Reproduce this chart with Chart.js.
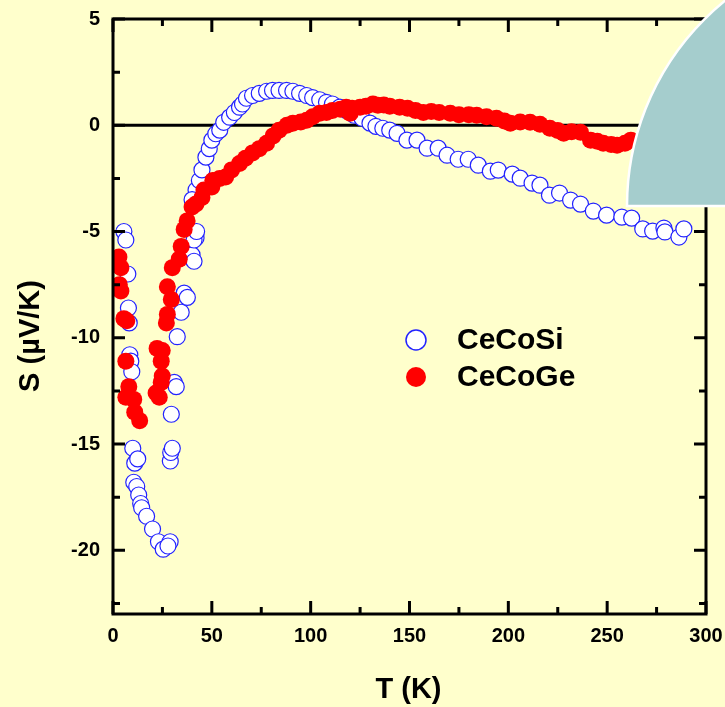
<!DOCTYPE html>
<html>
<head>
<meta charset="utf-8">
<script src="https://cdn.jsdelivr.net/npm/chart.js@4/dist/chart.umd.min.js"></script>
<style>
  html, body { margin: 0; padding: 0; background: #FFFFCC; }
  canvas { display: block; }
</style>
</head>
<body>
<canvas id="c" width="725" height="707"></canvas>
<script>
// Thermopower S(T) of CeCoSi and CeCoGe
const seriesNames = ['CeCoSi', 'CeCoGe'];
const xTitle = 'T (K)';
const yTitle = 'S (µV/K)';

// CeCoSi: temperature (K) and thermopower (µV/K)
const siT = [5.5, 6.5, 7.5, 7.8, 8.2, 8.5, 9.0, 9.5, 10.0, 11.0, 12.5, 10.5, 12.0, 13.0, 14.0, 14.5, 17.0, 20.0, 23.0, 25.4, 28.9, 27.8,
  29.0, 29.2, 30.0, 29.5, 31.0, 32.0,
  32.5, 34.5, 36.0, 37.6, 40.0, 41.0, 42.0, 41.0, 42.3, 42.0, 40.0, 43.7, 45.0, 47.0, 48.7, 50.0, 52.0, 54.0, 56.0, 59.0, 61.4, 64.0,
  65.5, 67.5, 70.6, 74.0, 77.7, 80.7, 84.0, 87.8, 91.0, 94.4, 98.0, 101.0, 104.6, 108.0, 111.0, 114.7, 118.0, 122.0, 126.0, 130.0,
  133.0, 136.5, 140.0, 143.7, 148.7, 153.8, 158.9, 164.5, 169.0, 174.6, 179.7, 184.8, 190.9, 194.9, 202.0, 206.0, 212.0, 216.0,
  220.8, 225.9, 231.5, 236.5, 243.0, 249.7, 257.4, 262.4, 268.0, 273.0, 278.7, 279.2, 286.3, 288.8];
const siS = [-5.0, -5.4, -7.0, -8.6, -9.3, -10.8, -11.1, -11.6, -15.2, -15.9, -15.7, -16.8, -17.0, -17.4, -17.8, -18.0, -18.4, -19.0, -19.6, -19.95, -19.6, -19.8,
  -15.8, -15.4, -15.2, -13.6, -12.1, -12.3,
  -9.95, -8.8, -7.9, -8.1, -6.1, -6.4, -5.3, -5.4, -5.0, -3.05, -3.5, -2.6, -2.1, -1.5, -1.1, -0.7, -0.4, -0.23, 0.14, 0.38, 0.6, 0.85,
  1.0, 1.27, 1.4, 1.5, 1.6, 1.64, 1.64, 1.64, 1.6, 1.5, 1.4, 1.3, 1.2, 1.08, 1.0, 0.85, 0.7, 0.47, 0.33, 0.1,
  -0.05, -0.14, -0.23, -0.38, -0.7, -0.7, -1.08, -1.08, -1.41, -1.6, -1.6, -1.88, -2.16, -2.11, -2.3, -2.49, -2.72, -2.82,
  -3.29, -3.19, -3.52, -3.71, -4.04, -4.23, -4.32, -4.37, -4.88, -4.98, -4.84, -5.02, -5.26, -4.88];

// CeCoGe: temperature (K) and thermopower (µV/K)
const geT = [3.0, 4.0, 3.2, 4.0, 5.5, 7.0, 6.5, 8.0, 6.5, 10.5, 11.0, 13.5, 24.4, 23.4, 24.9, 24.4, 24.9, 22.3, 21.8,
  27.5, 27.0, 29.5, 27.5, 30.0, 33.5, 34.5, 36.0, 37.5, 40.0, 42.0, 45.0, 46.0, 50.0, 50.5, 54.0, 57.0, 60.0, 64.0, 67.0, 70.6,
  74.0, 77.7, 81.0, 84.0, 88.0, 91.0, 95.0, 98.0, 101.0, 104.6, 108.0, 111.0, 115.0, 118.0, 120.0, 121.0, 125.0, 128.0, 131.5, 134.0,
  137.0, 140.0, 145.0, 149.0, 153.0, 157.0, 161.0, 165.0, 170.6, 175.0, 180.0, 184.0, 189.0, 194.0, 198.0, 201.0, 206.0, 211.0,
  216.0, 221.0, 225.0, 228.0, 232.0, 236.5, 241.6, 245.0, 248.0, 252.0, 255.0, 259.0, 262.0];
const geS = [-6.2, -6.7, -7.5, -7.8, -9.1, -9.2, -11.1, -12.3, -12.8, -12.9, -13.5, -13.9, -12.1, -12.8, -10.6, -11.1, -11.8, -10.5, -12.6,
  -8.9, -9.3, -8.2, -7.6, -6.7, -6.3, -5.7, -4.9, -4.5, -3.85, -3.7, -3.4, -3.05, -2.9, -2.6, -2.5, -2.44, -2.1, -1.8, -1.55, -1.3,
  -1.1, -0.85, -0.5, -0.23, 0.0, 0.1, 0.15, 0.23, 0.4, 0.56, 0.6, 0.7, 0.75, 0.85, 0.56, 0.8, 0.85, 0.9, 1.0, 0.94,
  0.95, 0.9, 0.85, 0.8, 0.7, 0.6, 0.65, 0.6, 0.56, 0.5, 0.5, 0.47, 0.4, 0.33, 0.2, 0.1, 0.15, 0.14,
  0.05, -0.14, -0.25, -0.38, -0.3, -0.33, -0.7, -0.75, -0.85, -0.9, -0.94, -0.85, -0.7];

// Axis ticks
const xMajorTicks = [0, 50, 100, 150, 200, 250, 300];
const xMinorTicks = [25, 75, 125, 175, 225, 275];
const yMajorTicks = [-20, -15, -10, -5, 0, 5];
const yMinorTicks = [-22.5, -17.5, -12.5, -7.5, -2.5, 2.5];

const toPoints = (xs, ys) => xs.map((x, i) => ({ x: x, y: ys[i] }));

const BG = '#FFFFCC';
const FONT = "'Liberation Sans', Arial, sans-serif";

// Axis frame with inward ticks on all four sides, and the S = 0 line
const framePlugin = {
  id: 'frame',
  beforeDatasetsDraw(chart) {
    const { ctx, chartArea: a, scales: { y } } = chart;
    ctx.save();
    ctx.strokeStyle = '#000';
    ctx.lineWidth = 3;
    const y0 = y.getPixelForValue(0);
    ctx.beginPath();
    ctx.moveTo(a.left, y0);
    ctx.lineTo(a.right, y0);
    ctx.stroke();
    ctx.restore();
  },
  afterDatasetsDraw(chart) {
    const { ctx, chartArea: a, scales: { x, y } } = chart;
    ctx.save();
    ctx.strokeStyle = '#000';
    ctx.lineCap = 'butt';
    ctx.lineWidth = 3;
    ctx.strokeRect(a.left, a.top, a.right - a.left, a.bottom - a.top);
    const tick = (vals, len, w) => {
      ctx.lineWidth = w;
      ctx.beginPath();
      vals.forEach(v => {
        const px = x.getPixelForValue(v);
        ctx.moveTo(px, a.bottom); ctx.lineTo(px, a.bottom - len);
        ctx.moveTo(px, a.top); ctx.lineTo(px, a.top + len);
      });
      ctx.stroke();
    };
    const ytick = (vals, len, w) => {
      ctx.lineWidth = w;
      ctx.beginPath();
      vals.forEach(v => {
        const py = y.getPixelForValue(v);
        ctx.moveTo(a.left, py); ctx.lineTo(a.left + len, py);
        ctx.moveTo(a.right, py); ctx.lineTo(a.right - len, py);
      });
      ctx.stroke();
    };
    tick(xMajorTicks, 13, 3);
    tick(xMinorTicks, 7, 3);
    ytick(yMajorTicks, 12, 3);
    ytick(yMinorTicks, 7, 3);

    // axis titles
    ctx.fillStyle = '#000';
    ctx.font = 'bold 29px ' + FONT;
    ctx.textAlign = 'center';
    ctx.textBaseline = 'middle';
    ctx.fillText(xTitle, (a.left + a.right) / 2 - 1, 690);
    ctx.save();
    ctx.translate(31, 336);
    ctx.rotate(-Math.PI / 2);
    ctx.fillText(yTitle, 0, 0);
    ctx.restore();
    ctx.restore();
  }
};

// Legend inside the plot area
const legendPlugin = {
  id: 'insideLegend',
  afterDatasetsDraw(chart) {
    const { ctx } = chart;
    const items = chart.data.datasets;
    ctx.save();
    items.forEach((ds, row) => {
      const cy = 340 + row * 37;
      ctx.beginPath();
      ctx.arc(416, cy, 10, 0, Math.PI * 2);
      ctx.fillStyle = ds.backgroundColor;
      ctx.fill();
      if (ds.borderWidth) {
        ctx.lineWidth = 1.5;
        ctx.strokeStyle = ds.borderColor;
        ctx.stroke();
      }
      ctx.fillStyle = '#000';
      ctx.font = 'bold 30px ' + FONT;
      ctx.textBaseline = 'middle';
      ctx.textAlign = 'left';
      ctx.fillText(ds.label, 457, cy + 1);
    });
    ctx.restore();
  }
};

// Corner ornament in the top-right corner
const cornerPlugin = {
  id: 'corner',
  afterDraw(chart) {
    const { ctx } = chart;
    const cx = 891, cy = 206, r = 264;
    ctx.save();
    ctx.beginPath();
    ctx.moveTo(cx, cy);
    ctx.lineTo(cx - r, cy);
    ctx.arc(cx, cy, r, Math.PI, 1.5 * Math.PI);
    ctx.closePath();
    ctx.fillStyle = '#A5CDCD';
    ctx.fill();
    ctx.strokeStyle = '#FFFFFF';
    ctx.lineWidth = 2.5;
    ctx.stroke();
    ctx.restore();
  }
};

const bgPlugin = {
  id: 'bg',
  beforeDraw(chart) {
    const { ctx, width, height } = chart;
    ctx.save();
    ctx.fillStyle = BG;
    ctx.fillRect(0, 0, width, height);
    ctx.restore();
  }
};

new Chart(document.getElementById('c'), {
  type: 'scatter',
  data: {
    datasets: [
      {
        label: seriesNames[0],
        data: toPoints(siT, siS),
        pointRadius: 8,
        pointHoverRadius: 8,
        backgroundColor: '#FFFFFF',
        borderColor: '#2222FF',
        borderWidth: 1.2,
        order: 1
      },
      {
        label: seriesNames[1],
        data: toPoints(geT, geS),
        pointRadius: 8.5,
        pointHoverRadius: 8.5,
        backgroundColor: '#FF0000',
        borderColor: '#FF0000',
        borderWidth: 0,
        order: 0
      }
    ]
  },
  options: {
    responsive: false,
    animation: false,
    devicePixelRatio: 1,
    layout: { padding: { left: 0, top: 19, right: 19, bottom: 0 } },
    plugins: { legend: { display: false }, tooltip: { enabled: false } },
    scales: {
      x: {
        type: 'linear',
        min: 0,
        max: 300,
        afterFit(scale) { scale.height = 93; scale.paddingLeft = 0; scale.paddingRight = 0; },
        afterBuildTicks(scale) { scale.ticks = xMajorTicks.map(v => ({ value: v })); },
        grid: { display: false, drawTicks: false },
        border: { display: false },
        ticks: { color: '#000', padding: 10, font: { family: FONT, size: 20, weight: 'bold' }, maxRotation: 0 }
      },
      y: {
        type: 'linear',
        min: -23,
        max: 5,
        afterFit(scale) { scale.width = 113; scale.paddingTop = 0; scale.paddingBottom = 0; },
        afterBuildTicks(scale) { scale.ticks = yMajorTicks.map(v => ({ value: v })); },
        grid: { display: false, drawTicks: false },
        border: { display: false },
        ticks: { color: '#000', padding: 13, font: { family: FONT, size: 20, weight: 'bold' } }
      }
    }
  },
  plugins: [bgPlugin, framePlugin, legendPlugin, cornerPlugin]
});
</script>
</body>
</html>
